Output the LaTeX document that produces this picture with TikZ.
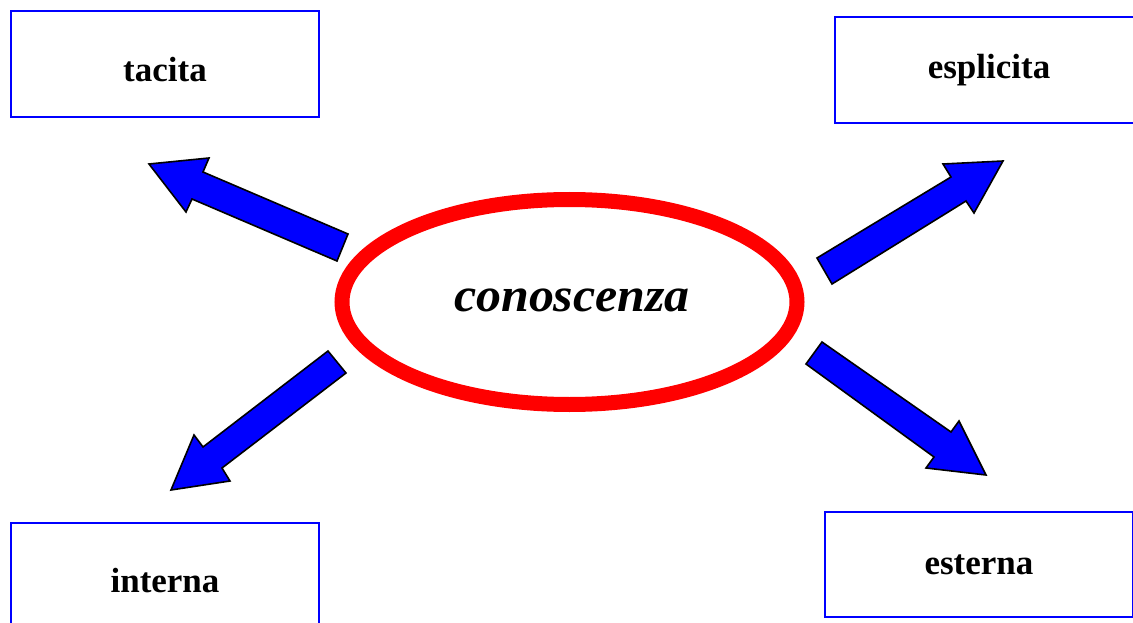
\documentclass[tikz,border=0pt]{standalone}
\usepackage{fontspec}
\setmainfont{Liberation Serif}
\newcommand{\lowertext}[2]{\raisebox{-#1}[\height][\depth]{#2}}
\begin{document}
\begin{tikzpicture}[x=1pt,y=-1pt,
  box/.style={draw=blue, line width=2pt, minimum width=308pt, minimum height=106pt, inner sep=0pt, font=\fontsize{35}{40}\selectfont\bfseries},
  blockarrow/.style={fill=blue, draw=black, line width=1.6pt, line join=miter}]
\useasboundingbox (0,0) rectangle (1133,623);
\fill[white] (0,0) rectangle (1133,623);
% boxes
\node[box] (tacita) at (165,64) {\lowertext{6pt}{tacita}};
\node[box] (esplicita) at (989,70) {esplicita};
\node[box, minimum height=108pt] (interna) at (165,577) {\lowertext{4pt}{interna}};
\node[box, minimum height=105pt] (esterna) at (979,564.5) {esterna};
% centre ellipse
\draw[red, line width=15pt] (569.5,302) ellipse [x radius=227.5, y radius=102.5];
\node[font=\fontsize{48}{52}\selectfont\bfseries\itshape, xscale=1.04] (core) at (572,300) {conoscenza};
% block arrows
\draw[blockarrow] (337,261) -- (192,199) -- (186,212) -- (149,164) -- (209,158) -- (203,172) -- (348,234) -- cycle;
\draw[blockarrow] (817,258) -- (951,177) -- (943,164) -- (1003,161) -- (974,213) -- (966,201) -- (832,284) -- cycle;
\draw[blockarrow] (346,373) -- (222,468) -- (230,481) -- (171,490) -- (194,435) -- (203,447) -- (328,351) -- cycle;
\draw[blockarrow] (822,342) -- (951,432) -- (959,421) -- (986,475) -- (926,468) -- (934,457) -- (806,364) -- cycle;
\end{tikzpicture}
\end{document}
